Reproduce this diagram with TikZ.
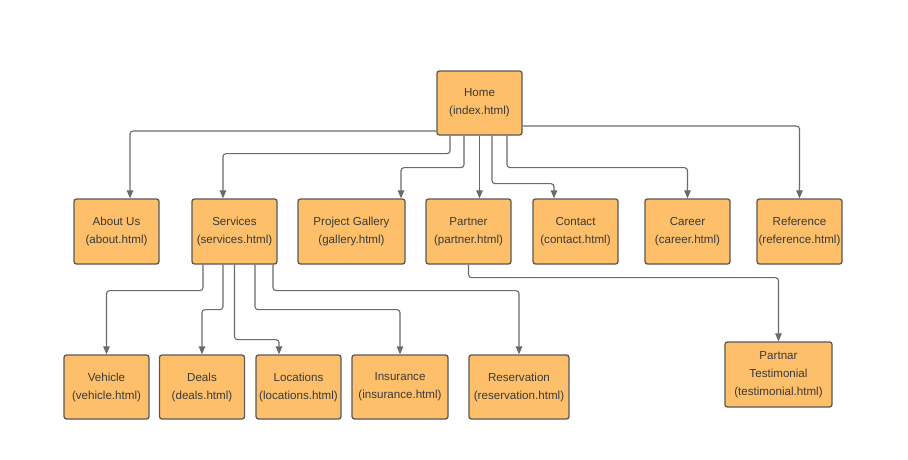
\documentclass[tikz,border=0pt]{standalone}
\usepackage{fontspec}
\setmainfont{Liberation Sans}
\usetikzlibrary{arrows.meta}
\definecolor{boxfill}{HTML}{FDBF6A}
\definecolor{boxline}{HTML}{595959}
\definecolor{conn}{HTML}{6A6A6A}
\definecolor{txt}{HTML}{3A3A3A}
\begin{document}
\begin{tikzpicture}[x=1pt,y=-1pt,
  page/.style={draw=boxline, line width=1.3pt, fill=boxfill, rounded corners=2.5pt,
    minimum height=65pt, minimum width=85pt, inner sep=0pt, align=center,
    text=txt, font=\fontsize{11.6}{18}\selectfont},
  link/.style={draw=conn, line width=1.1pt, rounded corners=3pt,
    -{Triangle[length=8pt,width=6.5pt]}}]
\useasboundingbox (0,0) rectangle (908,459);
\fill[white] (0,0) rectangle (908,459);
% nodes
\node[page, minimum height=64pt] (home) at (479.5,103) {Home\\(index.html)};
\node[page] (about) at (116.5,231.5) {About Us\\(about.html)};
\node[page] (services) at (234.5,231.5) {Services\\(services.html)};
\node[page, minimum width=107pt] (gallery) at (351.5,231.5) {Project Gallery\\(gallery.html)};
\node[page] (partner) at (468.5,231.5) {Partner\\(partner.html)};
\node[page] (contact) at (575.5,231.5) {Contact\\(contact.html)};
\node[page] (career) at (687.5,231.5) {Career\\(career.html)};
\node[page] (reference) at (799.5,231.5) {Reference\\(reference.html)};
\node[page, minimum height=64pt] (vehicle) at (106.5,387) {Vehicle\\(vehicle.html)};
\node[page, minimum height=64pt] (deals) at (202,387) {Deals\\(deals.html)};
\node[page, minimum height=64pt] (locations) at (298.5,387) {Locations\\(locations.html)};
\node[page, minimum height=64pt, minimum width=96pt] (insurance) at (400,387) {Insurance\\(insurance.html)};
\node[page, minimum height=64pt, minimum width=100pt] (reservation) at (519,387) {Reservation\\(reservation.html)};
\node[page, minimum width=107pt] (testimonial) at (778.5,374.5) {Partnar\\Testimonial\\(testimonial.html)};
% connectors from home
\draw[link] ([yshift=-28pt]home.west) -| ([xshift=13.5pt]about.north);
\draw[link] ([xshift=-29.5pt]home.south) -- ++(0,18) -| ([xshift=-11.5pt]services.north);
\draw[link] ([xshift=-15.5pt]home.south) -- ++(0,32) -| ([xshift=49.5pt]gallery.north);
\draw[link] (home.south) -- (home.south |- partner.north);
\draw[link] ([xshift=12.5pt]home.south) -- ++(0,48) -| ([xshift=-21.5pt]contact.north);
\draw[link] ([xshift=27.5pt]home.south) -- ++(0,32) -| (career.north);
\draw[link] ([yshift=-23pt]home.east) -| (reference.north);
% connectors from services
\draw[link] ([xshift=-31.5pt]services.south) -- ++(0,26) -| (vehicle.north);
\draw[link] ([xshift=-11.5pt]services.south) -- ++(0,45) -| (deals.north);
\draw[link] (services.south) -- ++(0,75) -| ([xshift=-19.5pt]locations.north);
\draw[link] ([xshift=20.5pt]services.south) -- ++(0,45) -| (insurance.north);
\draw[link] ([xshift=38.5pt]services.south) -- ++(0,26) -| (reservation.north);
% partner to testimonial
\draw[link] (partner.south) -- ++(0,13) -| (testimonial.north);
\end{tikzpicture}
\end{document}
